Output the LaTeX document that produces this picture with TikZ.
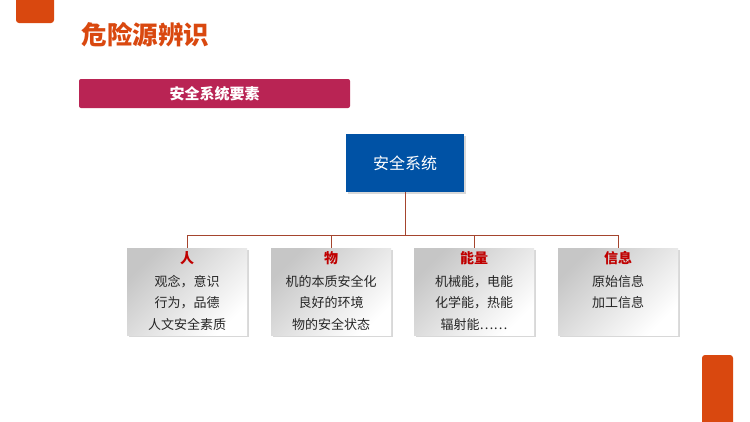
\documentclass[tikz,border=0pt]{standalone}
\usepackage{fontspec}
\newfontfamily\cjk{Noto Sans CJK SC}
\usetikzlibrary{shadows}
\definecolor{brandorange}{HTML}{D9480F}
\definecolor{barred}{HTML}{B92454}
\definecolor{sysblue}{HTML}{0052A5}
\definecolor{linkbrown}{HTML}{A5452E}
\definecolor{headred}{HTML}{C00000}
\definecolor{bodygray}{HTML}{262626}
\begin{document}
\begin{tikzpicture}[x=1pt,y=-1pt,
  item/.style={minimum width=120pt,minimum height=87pt,top color=gray!45,bottom color=white,shading angle=45,
    drop shadow={opacity=0.3,shadow xshift=2pt,shadow yshift=-2pt}},
  head/.style={font=\cjk\bfseries\fontsize{14}{14}\selectfont,text=headred},
  body/.style={font=\cjk\fontsize{13}{21.5}\selectfont,text=bodygray,align=center,anchor=north},
  link/.style={draw=linkbrown,line width=0.8pt}]
\useasboundingbox[fill=white] (0,0) rectangle (750,421);
\clip (0,0) rectangle (750,421);
% corner marks
\fill[brandorange,rounded corners=3pt] (16,-6) rectangle (54,23);
\fill[brandorange,rounded corners=3pt] (702,355) rectangle (733,430);
% title and bar
\node[anchor=west,text=brandorange,font=\cjk\bfseries\fontsize{25.5}{25.5}\selectfont] (title) at (78,35) {危险源辨识};
\node[fill=barred,rounded corners=2pt,minimum width=271pt,minimum height=29pt,text=white,
  font=\cjk\bfseries\fontsize{15}{15}\selectfont] (bar) at (214.5,93.5) {安全系统要素};
% top box
\node[fill=sysblue,minimum width=118pt,minimum height=58pt,text=white,font=\cjk\fontsize{16}{16}\selectfont,
  drop shadow={opacity=0.3,shadow xshift=2pt,shadow yshift=-2pt}] (sys) at (405,163) {安全系统};
% element boxes
\node[item] (ren) at (187,291.5) {};
\node[item] (wu) at (331,291.5) {};
\node[item] (neng) at (474,291.5) {};
\node[item] (xin) at (618,291.5) {};
\foreach \b in {ren,wu,neng,xin}
  \draw[link] (sys.south) -- ++(0,43) -| (\b.north);
\node[head] (renh) at ([yshift=-10pt]ren.north) {人};
\node[body] (renb) at ([yshift=-24pt]ren.north) {观念，意识\\行为，品德\\人文安全素质};
\node[head] (wuh) at ([yshift=-10pt]wu.north) {物};
\node[body] (wub) at ([yshift=-24pt]wu.north) {机的本质安全化\\良好的环境\\物的安全状态};
\node[head] (nengh) at ([yshift=-10pt]neng.north) {能量};
\node[body] (nengb) at ([yshift=-24pt]neng.north) {机械能，电能\\化学能，热能\\辐射能……};
\node[head] (xinh) at ([yshift=-10pt]xin.north) {信息};
\node[body] (xinb) at ([yshift=-24pt]xin.north) {原始信息\\加工信息};
\end{tikzpicture}
\end{document}
